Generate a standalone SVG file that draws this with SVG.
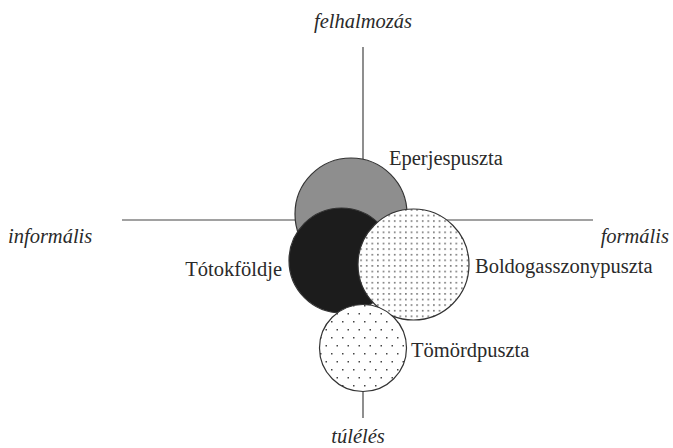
<svg xmlns="http://www.w3.org/2000/svg" width="673" height="448" viewBox="0 0 673 448">
<defs>
<pattern id="dense" patternUnits="userSpaceOnUse" width="5.6" height="5.6">
<rect x="2" y="2" width="1.4" height="1.4" fill="#444"/>
</pattern>
<pattern id="sparse" patternUnits="userSpaceOnUse" width="11" height="16">
<rect x="1" y="1" width="1.5" height="1.5" fill="#444"/>
<rect x="6.5" y="9" width="1.5" height="1.5" fill="#444"/>
</pattern>
</defs>
<style>
.ax{stroke:#444;stroke-width:1.2;fill:none}
.c{stroke:#333;stroke-width:1.2}
.lbl{font-family:"Liberation Serif","DejaVu Serif",serif;font-size:20.5px;fill:#2a2a2a}
.it{font-family:"Liberation Serif","DejaVu Serif",serif;font-size:20.5px;font-style:italic;fill:#2a2a2a}
</style>
<g id="connectors">
<line class="ax" x1="363" y1="47" x2="363" y2="418"/>
<line class="ax" x1="122" y1="220" x2="593" y2="220"/>
</g>
<g id="axis-labels">
<text class="it" x="363" y="28" text-anchor="middle">felhalmozás</text>
<text class="it" x="358" y="443" text-anchor="middle">túlélés</text>
<text class="it" x="8" y="243">informális</text>
<text class="it" x="669" y="243" text-anchor="end">formális</text>
</g>
<g id="eperjespuszta">
<circle class="c" cx="351" cy="214" r="56" fill="#8e8e8e"/>
<text class="lbl" x="389" y="165">Eperjespuszta</text>
</g>
<g id="totokfoldje">
<circle class="c" cx="341.5" cy="260.5" r="52.5" fill="#1c1c1c"/>
<text class="lbl" x="282" y="276" text-anchor="end">Tótokföldje</text>
</g>
<g id="boldogasszonypuszta">
<circle cx="413.5" cy="264.5" r="55.5" fill="#fff"/>
<circle class="c" cx="413.5" cy="264.5" r="55.5" fill="url(#dense)"/>
<text class="lbl" x="475" y="273">Boldogasszonypuszta</text>
</g>
<g id="tomordpuszta">
<circle cx="363" cy="348" r="43.5" fill="#fff"/>
<circle class="c" cx="363" cy="348" r="43.5" fill="url(#sparse)"/>
<text class="lbl" x="411" y="357">Tömördpuszta</text>
</g>
</svg>
